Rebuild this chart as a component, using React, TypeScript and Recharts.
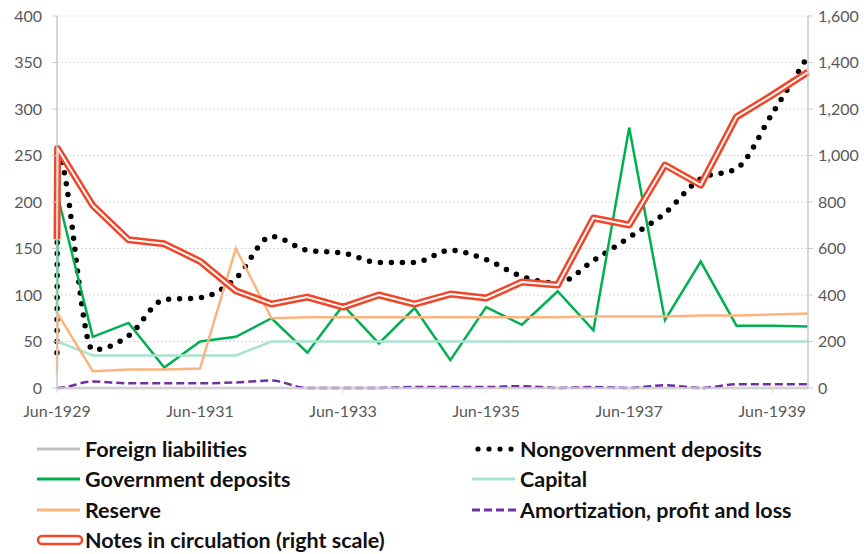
import React from 'react';
import { LineChart, Line, XAxis, YAxis, CartesianGrid } from 'recharts';

// Observation dates, in months after Jun-1929 (the first two are the opening and Jun-1929 balances)
const monthsFromJun1929 = [0, 0.1, 6, 12, 18, 24, 30, 36, 42, 48, 54, 60, 66, 72, 78, 84, 90, 96, 102, 108, 114, 120, 126];

const xTickValues = [0, 24, 48, 72, 96, 120];
const xTickLabels = ['Jun-1929', 'Jun-1931', 'Jun-1933', 'Jun-1935', 'Jun-1937', 'Jun-1939'];
const leftTicks = [0, 50, 100, 150, 200, 250, 300, 350, 400];
const rightTicks = [0, 200, 400, 600, 800, 1000, 1200, 1400, 1600];

const foreignLiabilities = [0, 0, 0, 0, 0, 0, 0, 0, 0, 0, 0, 0, 0, 0, 0, 0, 0, 0, 0, 0, 0, 0, 0];
const nongovernmentDeposits = [38, 252, 41, 56, 95, 97, 118, 163, 148, 145, 135, 135, 148, 138, 120, 113, 137, 162, 188, 225, 236, 295, 357];
const governmentDeposits = [80, 207, 55, 70, 22, 50, 55, 75, 38, 89, 48, 86, 30, 87, 68, 104, 62, 280, 73, 136, 67, 67, 66];
const capital = [50, 50, 35, 35, 35, 35, 35, 50, 50, 50, 50, 50, 50, 50, 50, 50, 50, 50, 50, 50, 50, 50, 50];
const reserve = [16, 80, 18, 20, 20, 21, 150, 75, 76, 76, 76, 76, 76, 76, 76, 76, 77, 77, 77, 78, 78, 79, 80];
const amortization = [0, 0, 7, 5, 5, 5, 6, 8, 0, 0, 0, 1, 1, 1, 2, 0, 1, 0, 3, 0, 4, 4, 4];
const notesInCirculation = [640, 1030, 785, 638, 620, 545, 418, 361, 391, 348, 400, 361, 404, 387, 456, 443, 731, 701, 959, 873, 1166, 1260, 1359];

const data = monthsFromJun1929.map((m, i) => ({
  m,
  foreign: foreignLiabilities[i],
  nongov: nongovernmentDeposits[i],
  gov: governmentDeposits[i],
  capital: capital[i],
  reserve: reserve[i],
  amort: amortization[i],
  notes: notesInCirculation[i],
}));

const FONT = 'Lato, "Open Sans", sans-serif';
const tickStyle = { fill: '#595959', fontSize: 16, fontFamily: FONT };

const C = {
  foreign: '#bfbfbf',
  nongov: '#000000',
  gov: '#00b050',
  capital: '#a9e4cf',
  reserve: '#fbb47e',
  amort: '#7030a0',
  notes: '#f0462a',
};

const Sym = ({ kind }: { kind: string }) => {
  const w = 48;
  const h = 12;
  let inner: React.ReactNode = null;
  if (kind === 'foreign') inner = <line x1={1} y1={6} x2={44} y2={6} stroke={C.foreign} strokeWidth={3} />;
  if (kind === 'gov') inner = <line x1={1} y1={6} x2={44} y2={6} stroke={C.gov} strokeWidth={3} />;
  if (kind === 'capital') inner = <line x1={1} y1={6} x2={44} y2={6} stroke={C.capital} strokeWidth={3} />;
  if (kind === 'reserve') inner = <line x1={1} y1={6} x2={44} y2={6} stroke={C.reserve} strokeWidth={3} />;
  if (kind === 'nongov')
    inner = (
      <g fill="#000">
        {[4, 15, 26, 37].map((x) => (
          <circle key={x} cx={x + 3} cy={6} r={2.6} />
        ))}
      </g>
    );
  if (kind === 'amort')
    inner = <line x1={1} y1={6} x2={46} y2={6} stroke={C.amort} strokeWidth={3} strokeDasharray="8 4" />;
  if (kind === 'notes')
    inner = (
      <g>
        <rect x={2} y={2} width={44} height={8} rx={4} fill="#fff" stroke={C.notes} strokeWidth={2.5} />
      </g>
    );
  return (
    <svg width={w} height={h} style={{ display: 'block' }}>
      {inner}
    </svg>
  );
};

const legendItems = [
  { kind: 'foreign', label: 'Foreign liabilities', x: 36, y: 449 },
  { kind: 'nongov', label: 'Nongovernment deposits', x: 471, y: 449 },
  { kind: 'gov', label: 'Government deposits', x: 36, y: 479 },
  { kind: 'capital', label: 'Capital', x: 471, y: 479 },
  { kind: 'reserve', label: 'Reserve', x: 36, y: 510 },
  { kind: 'amort', label: 'Amortization, profit and loss', x: 471, y: 510 },
  { kind: 'notes', label: 'Notes in circulation (right scale)', x: 36, y: 540 },
];

export default function App() {
  return (
    <div style={{ position: 'absolute', left: 0, top: 0, width: 864, height: 554, background: '#fff', overflow: 'hidden' }}>
      <LineChart width={864} height={554} data={data} margin={{ top: 16, right: 0, left: 0, bottom: 136 }}>
        <CartesianGrid yAxisId="left" vertical={false} stroke="#d9d9d9" strokeDasharray="2 2" />
        <XAxis
          dataKey="m"
          type="number"
          domain={[0, 126]}
          ticks={xTickValues}
          tickFormatter={(v: number) => xTickLabels[xTickValues.indexOf(v)]}
          height={30}
          tick={tickStyle}
          axisLine={{ stroke: '#d9d9d9', strokeWidth: 1.5 }}
          tickLine={{ stroke: '#d9d9d9' }}
          tickSize={5}
          tickMargin={13}
          interval={0}
        />
        <YAxis
          yAxisId="left"
          domain={[0, 400]}
          ticks={leftTicks}
          width={57}
          tick={tickStyle}
          axisLine={{ stroke: '#c8c8c8', strokeWidth: 1.5 }}
          tickLine={{ stroke: '#c8c8c8' }}
          tickSize={5}
          tickMargin={10}
          interval={0}
        />
        <YAxis
          yAxisId="right"
          orientation="right"
          domain={[0, 1600]}
          ticks={rightTicks}
          width={56}
          tick={{ ...tickStyle, textAnchor: 'start' }}
          tickFormatter={(v: number) => v.toLocaleString('en-US')}
          axisLine={{ stroke: '#c8c8c8', strokeWidth: 1.5 }}
          tickLine={{ stroke: '#c8c8c8' }}
          tickSize={5}
          tickMargin={5}
          interval={0}
        />
        <Line yAxisId="left" dataKey="foreign" stroke={C.foreign} strokeWidth={2.5} dot={false} isAnimationActive={false} />
        <Line
          yAxisId="left"
          dataKey="nongov"
          type="monotone"
          stroke={C.nongov}
          strokeWidth={5.5}
          strokeDasharray="0 11"
          strokeLinecap="round"
          dot={false}
          isAnimationActive={false}
        />
        <Line yAxisId="left" dataKey="gov" stroke={C.gov} strokeWidth={2.5} dot={false} isAnimationActive={false} />
        <Line yAxisId="left" dataKey="capital" stroke={C.capital} strokeWidth={2.5} dot={false} isAnimationActive={false} />
        <Line yAxisId="left" dataKey="reserve" stroke={C.reserve} strokeWidth={2.5} dot={false} isAnimationActive={false} />
        <Line
          yAxisId="left"
          dataKey="amort"
          type="monotone"
          stroke={C.amort}
          strokeWidth={2.5}
          strokeDasharray="8 4"
          dot={false}
          isAnimationActive={false}
        />
        <Line yAxisId="right" dataKey="notes" stroke={C.notes} strokeWidth={7} strokeLinejoin="round" dot={false} isAnimationActive={false} />
        <Line yAxisId="right" dataKey="notes" stroke="#ffffff" strokeWidth={2} strokeLinejoin="round" dot={false} isAnimationActive={false} legendType="none" />
      </LineChart>
      {legendItems.map((it) => (
        <div
          key={it.label}
          style={{
            position: 'absolute',
            left: it.x,
            top: it.y - 14,
            height: 28,
            display: 'flex',
            alignItems: 'center',
            fontFamily: FONT,
            fontWeight: 700,
            fontSize: 21.5,
            color: '#111',
            whiteSpace: 'nowrap',
          }}
        >
          <Sym kind={it.kind} />
          <span style={{ marginLeft: 1 }}>{it.label}</span>
        </div>
      ))}
    </div>
  );
}
